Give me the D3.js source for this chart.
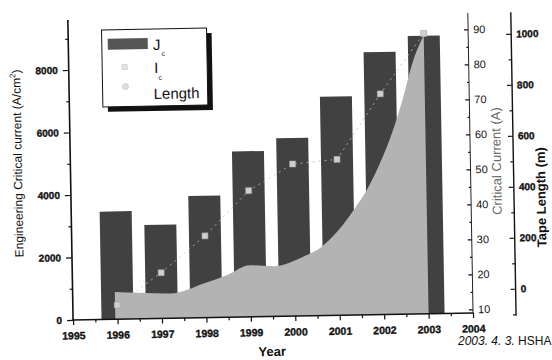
<!DOCTYPE html>
<html>
<head>
<meta charset="utf-8">
<script src="https://cdn.jsdelivr.net/npm/d3@7"></script>
<style>
body { margin: 0; background: #fff; }
text { font-family: "Liberation Sans", Arial, sans-serif; }
</style>
</head>
<body>
<svg id="chart" width="552" height="360"></svg>
<script>
// values
var years = [1996, 1997, 1998, 1999, 2000, 2001, 2002, 2003];
var jcValues = [3450, 3000, 3900, 5300, 5700, 7000, 8400, 8900];
var icValues = [13, 22, 32.3, 45, 52.4, 53.5, 72, 89];
var lengthYears = [1995.95, 1996.5, 1997.2, 1998.0, 1998.5, 1999.0, 1999.55, 2000.2, 2000.6, 2001.0, 2001.4, 2001.7, 2002.0, 2002.25, 2002.5, 2002.75, 2003.0];
var lengthValues = [15, 10, 5, 45, 75, 110, 105, 140, 175, 240, 330, 410, 515, 620, 750, 900, 1000];
var xTicks = [1995, 1996, 1997, 1998, 1999, 2000, 2001, 2002, 2003, 2004];
var jcTicks = [0, 2000, 4000, 6000, 8000];
var icTicks = [10, 20, 30, 40, 50, 60, 70, 80, 90];
var lengthTicks = [0, 200, 400, 600, 800, 1000];

var svg = d3.select("#chart");

// the scan is tilted by about one degree
var g = svg.append("g").attr("transform", "rotate(-1,270,170)");

var x = d3.scaleLinear().domain([1995, 2004]).range([70.5, 470.5]);
var yJ = d3.scaleLinear().domain([0, 9600]).range([316.5, 16.5]);
var yI = d3.scaleLinear().domain([10, 90]).range([312.8, 32.8]);
var yL = d3.scaleLinear().domain([0, 1000]).range([293, 38]);

var barW = 32;

// Jc bars
g.append("g").selectAll("rect").data(years).enter()
  .append("rect")
  .attr("x", function(d) { return x(d) - barW / 2; })
  .attr("y", function(d, i) { return yJ(jcValues[i]); })
  .attr("width", barW)
  .attr("height", function(d, i) { return yJ(0) - yJ(jcValues[i]); })
  .attr("fill", "#414141");

// tape length area
var lenData = lengthYears.map(function(d, i) { return [d, lengthValues[i]]; });
var area = d3.area()
  .x(function(d) { return x(d[0]); })
  .y0(yJ(0))
  .y1(function(d) { return yL(d[1]); })
  .curve(d3.curveMonotoneX);
g.append("path").datum(lenData).attr("d", area).attr("fill", "#b3b3b3");

// Ic dashed line + markers
var icData = years.map(function(d, i) { return [d, icValues[i]]; });
var line = d3.line()
  .x(function(d) { return x(d[0]); })
  .y(function(d) { return yI(d[1]); });
g.append("path").datum(icData).attr("d", line)
  .attr("fill", "none").attr("stroke", "#bdbdbd").attr("stroke-width", 0.8)
  .attr("stroke-dasharray", "2,4");
g.append("g").selectAll("rect").data(icData).enter()
  .append("rect")
  .attr("x", function(d) { return x(d[0]) - 3; })
  .attr("y", function(d) { return yI(d[1]) - 3; })
  .attr("width", 6).attr("height", 6)
  .attr("fill", "#cfcfcf").attr("stroke", "#a0a0a0").attr("stroke-width", 0.6);

// axis lines
var axisStyle = function(sel, bold, size) {
  sel.select(".domain").remove();
  sel.selectAll("line").attr("stroke", "#111").attr("stroke-width", 1.2);
  sel.selectAll("text").attr("fill", "#111")
    .attr("stroke", bold ? "#111" : "none").attr("stroke-width", 0.35)
    .style("font-size", size + "px").style("font-weight", bold ? "bold" : "normal")
    .style("font-family", "'Liberation Sans', Arial, sans-serif");
};

g.append("line").attr("x1", 70.5).attr("x2", 70.5).attr("y1", 16.5).attr("y2", 317)
  .attr("stroke", "#111").attr("stroke-width", 1.6);
g.append("line").attr("x1", 70).attr("x2", 471).attr("y1", 316.5).attr("y2", 316.5)
  .attr("stroke", "#111").attr("stroke-width", 1.6);
g.append("line").attr("x1", 470.5).attr("x2", 470.5).attr("y1", 16.5).attr("y2", 317)
  .attr("stroke", "#222").attr("stroke-width", 1);
g.append("line").attr("x1", 513.5).attr("x2", 513.5).attr("y1", 16.5).attr("y2", 320)
  .attr("stroke", "#111").attr("stroke-width", 1.4);

// left axis
g.append("g").attr("transform", "translate(70.5,0)")
  .call(d3.axisLeft(yJ).tickValues(jcTicks).tickSize(6).tickPadding(5).tickFormat(d3.format("d")))
  .call(axisStyle, true, 10);
g.append("g").attr("transform", "translate(70.5,0)")
  .call(d3.axisLeft(yJ).tickValues([1000, 3000, 5000, 7000, 9000]).tickSize(3).tickFormat(""))
  .call(axisStyle, true, 10);

// bottom axis
g.append("g").attr("transform", "translate(0,316.5)")
  .call(d3.axisBottom(x).tickValues(xTicks).tickSize(5).tickPadding(7).tickFormat(d3.format("d")))
  .call(axisStyle, true, 10.5);
g.append("g").attr("transform", "translate(0,316.5)")
  .call(d3.axisBottom(x).tickValues(xTicks.slice(0, -1).map(function(d) { return d + 0.5; })).tickSize(3).tickFormat(""))
  .call(axisStyle, true, 10);

// critical current axis
g.append("g").attr("transform", "translate(470.5,0)")
  .call(d3.axisRight(yI).tickValues(icTicks).tickSize(-4).tickPadding(5).tickFormat(d3.format("d")))
  .call(axisStyle, false, 11);
g.append("g").attr("transform", "translate(470.5,0)")
  .call(d3.axisRight(yI).tickValues([15, 25, 35, 45, 55, 65, 75, 85]).tickSize(-2).tickFormat(""))
  .call(axisStyle, false, 11);

// tape length axis
g.append("g").attr("transform", "translate(513.5,0)")
  .call(d3.axisRight(yL).tickValues(lengthTicks).tickSize(-5).tickPadding(5).tickFormat(d3.format("d")))
  .call(axisStyle, true, 10);
g.append("g").attr("transform", "translate(513.5,0)")
  .call(d3.axisRight(yL).tickValues([-100, 100, 300, 500, 700, 900]).tickSize(-3).tickFormat(""))
  .call(axisStyle, true, 10);

// axis titles
var ttl = g.append("text").attr("transform", "translate(22,159) rotate(-90)")
  .attr("text-anchor", "middle").style("font-size", "12px").attr("fill", "#111");
ttl.append("tspan").text("Engineering Critical current (A/cm");
ttl.append("tspan").attr("dy", -5).style("font-size", "8px").text("2");
ttl.append("tspan").attr("dy", 5).text(")");

g.append("text").attr("x", 269).attr("y", 356).attr("text-anchor", "middle")
  .style("font-size", "13px").style("font-weight", "bold").attr("fill", "#111").text("Year");

g.append("text").attr("transform", "translate(501,165) rotate(-90)")
  .attr("text-anchor", "middle").style("font-size", "13px").attr("fill", "#6a6a6a")
  .text("Critical Current (A)");

g.append("text").attr("transform", "translate(545,202) rotate(-90)")
  .attr("text-anchor", "middle").style("font-size", "13px").style("font-weight", "bold")
  .attr("fill", "#111").text("Tape Length (m)");

// legend
var lg = g.append("g");
lg.append("rect").attr("x", 109).attr("y", 32).attr("width", 105).attr("height", 77).attr("fill", "#111");
lg.append("rect").attr("x", 104).attr("y", 27).attr("width", 105).attr("height", 77)
  .attr("fill", "#fff").attr("stroke", "#111").attr("stroke-width", 1);
lg.append("rect").attr("x", 110).attr("y", 36).attr("width", 40).attr("height", 11).attr("fill", "#555");
lg.append("rect").attr("x", 124).attr("y", 62).attr("width", 5).attr("height", 5)
  .attr("fill", "#e4e4e4").attr("stroke", "#c4c4c4").attr("stroke-width", 0.6);
lg.append("circle").attr("cx", 127).attr("cy", 84).attr("r", 3)
  .attr("fill", "#e0e0e0").attr("stroke", "#bdbdbd").attr("stroke-width", 0.6);

var legText = function(xp, yp, main, sub, dx, dy) {
  var t = lg.append("text").attr("x", xp).attr("y", yp).style("font-size", "15px").attr("fill", "#111");
  t.append("tspan").text(main);
  if (sub) t.append("tspan").attr("dx", dx).attr("dy", dy).style("font-size", "7px").text(sub);
};
legText(155, 48, "J", "c", 1, 6);
legText(156, 71, "I", "c", 0, 7);
legText(155, 97, "Length");

// date stamp (not part of the scan)
var stamp = svg.append("text").attr("x", 458).attr("y", 345).style("font-size", "12px").attr("fill", "#111");
stamp.append("tspan").style("font-style", "italic").text("2003. 4. 3.");
stamp.append("tspan").text(" HSHA");
</script>
</body>
</html>
